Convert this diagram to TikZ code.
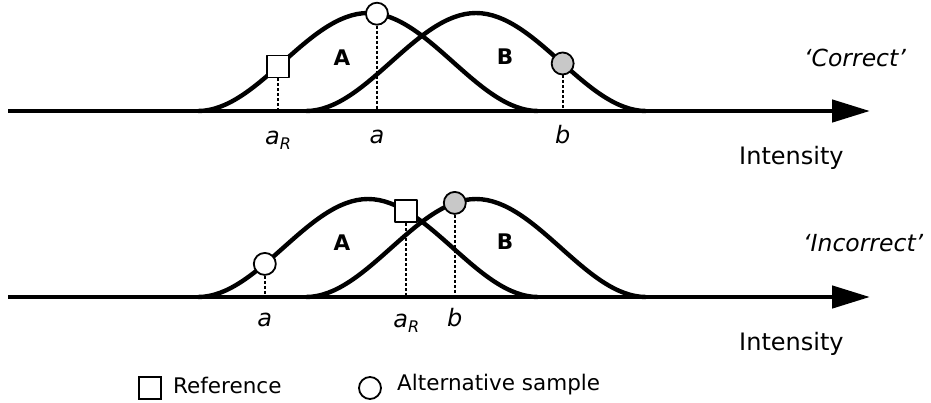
\documentclass[tikz,border=0pt]{standalone}
\usepackage{fontspec}
\setmainfont{DejaVu Sans}
\usetikzlibrary{arrows.meta}
\definecolor{markgray}{RGB}{200,200,200}
\tikzset{
  curve/.style={line width=4.4pt, line join=round},
  axisline/.style={line width=4.6pt, -{Triangle[length=38pt,width=22pt]}},
  refsq/.style={draw, line width=1.8pt, fill=white, minimum size=22pt, inner sep=0pt, shape=rectangle},
  altc/.style={draw, line width=1.8pt, fill=white, minimum size=22pt, inner sep=0pt, shape=circle},
  tstc/.style={draw, line width=1.8pt, fill=markgray, minimum size=22pt, inner sep=0pt, shape=circle},
  dotline/.style={line width=1.8pt, dash pattern=on 3pt off 2pt},
  lbl/.style={font=\fontsize{24}{28}\selectfont\itshape, inner sep=0pt},
  qlbl/.style={font=\fontsize{23.5}{28}\selectfont\itshape, inner sep=0pt, anchor=west},
  inten/.style={font=\fontsize{24}{28}\selectfont, inner sep=0pt, anchor=west},
  txt/.style={font=\fontsize{21.5}{25}\selectfont, inner sep=0pt, anchor=west},
  big/.style={font=\fontsize{21.5}{25}\selectfont\bfseries, inner sep=0pt}
}
\newcommand{\aR}{a\raisebox{-0.35ex}{\fontsize{16}{18}\selectfont R}}
\begin{document}
\begin{tikzpicture}[x=1pt,y=-1pt]
\useasboundingbox (0,0) rectangle (931,402);
% ---------- top panel ----------
\coordinate (axT) at (0,111);
\coordinate (axTs) at (8,111);
\coordinate (axTe) at (870,111);
\draw[axisline] (axTs) -- (axTe);
% curve B (top)
\draw[curve] (306,111) .. controls (366,111) and (416,13) .. (476,13)
  .. controls (536,13) and (586,111) .. (646,111)
  node[pos=0.51, tstc] (bT) {};
% curve A (top)
\draw[curve] (198,111) .. controls (258,111) and (308,13) .. (368,13)
  node[pos=0.47, refsq] (sqT) {}
  .. controls (428,13) and (478,111) .. (538,111)
  node[pos=0.05, altc] (aT) {};
\draw[dotline] (sqT.south) -- (sqT.south |- axT);
\draw[dotline] (aT.south) -- (aT.south |- axT);
\draw[dotline] (bT.south) -- (bT.south |- axT);
\node[lbl] (laRT) at (sqT |- 0,140) {\aR};
\node[lbl] (laT) at (aT |- 0,137) {a};
\node[lbl] (lbT) at (bT |- 0,135) {b};
\node[big] (AT) at (342,58) {A};
\node[big] (BT) at (505,57) {B};
\node[qlbl] (corr) at (804,58) {‘Correct’};
\node[inten] (intT) at (739,158) {Intensity};
% ---------- bottom panel ----------
\coordinate (axB) at (0,297);
\coordinate (axBs) at (8,297);
\coordinate (axBe) at (870,297);
\draw[axisline] (axBs) -- (axBe);
% curve B (bottom)
\draw[curve] (306,297) .. controls (366,297) and (416,199) .. (476,199)
  node[pos=0.88, tstc] (bB) {}
  .. controls (536,199) and (586,297) .. (646,297);
% curve A (bottom)
\draw[curve] (198,297) .. controls (258,297) and (308,199) .. (368,199)
  node[pos=0.39, altc] (aB) {}
  .. controls (428,199) and (478,297) .. (538,297)
  node[pos=0.22, refsq] (sqB) {};
\draw[dotline] (sqB.south) -- (sqB.south |- axB);
\draw[dotline] (aB.south) -- (aB.south |- axB);
\draw[dotline] (bB.south) -- (bB.south |- axB);
\node[lbl] (laRB) at (sqB |- 0,323) {\aR};
\node[lbl] (laB) at (aB |- 0,320) {a};
\node[lbl] (lbB) at (bB |- 0,318) {b};
\node[big] (AB) at (342,243) {A};
\node[big] (BB) at (505,242) {B};
\node[qlbl] (incorr) at (803,243) {‘Incorrect’};
\node[inten] (intB) at (739,344) {Intensity};
% ---------- legend ----------
\node[refsq] (legsq) at (150,388) {};
\node[txt] (legsqt) at (173,385) {Reference};
\node[altc] (legc) at (370,388) {};
\node[txt] (legct) at (397,385) {Alternative sample};
\end{tikzpicture}
\end{document}
